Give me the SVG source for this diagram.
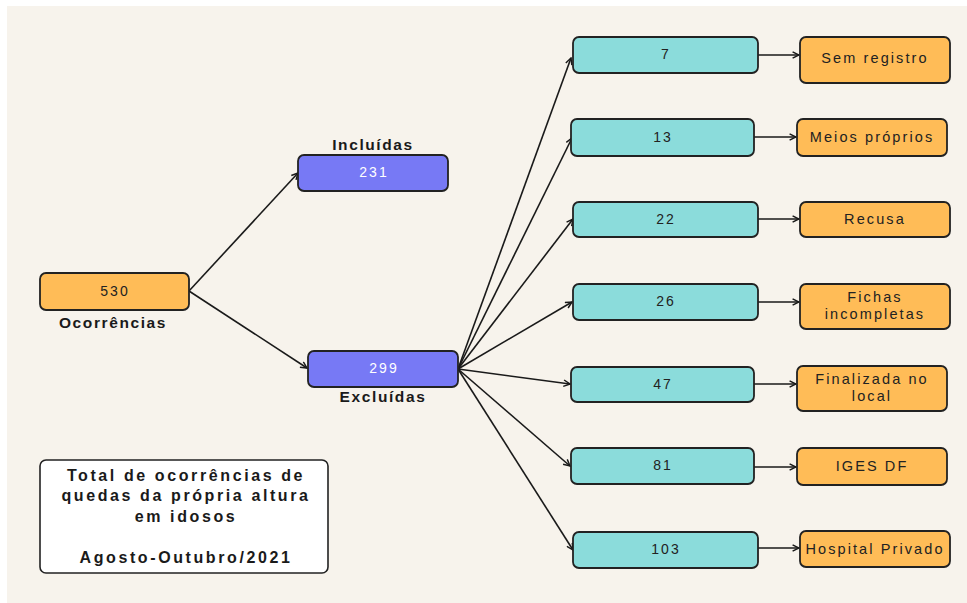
<svg xmlns="http://www.w3.org/2000/svg" width="967" height="603" viewBox="0 0 967 603">
<defs>
<marker id="ah" viewBox="0 0 10 10" refX="9" refY="5" markerWidth="8" markerHeight="8" markerUnits="userSpaceOnUse" orient="auto">
<path d="M1,1 L9,5 L1,9" fill="none" stroke="#1a1a1a" stroke-width="1.8"/>
</marker>
<style>
.box{stroke:#222;stroke-width:1.8}
.or{fill:#FFBC57}
.te{fill:#8BDCDB}
.pu{fill:#7779F5}
.t{font-family:"Liberation Sans",Arial,sans-serif;font-size:14.5px;fill:#222;text-anchor:middle;letter-spacing:2.1px}
.n{font-family:"Liberation Sans",Arial,sans-serif;font-size:14px;fill:#222;text-anchor:middle;letter-spacing:2px}
.w{fill:#fff}
.b{font-family:"Liberation Sans",Arial,sans-serif;font-size:15.5px;font-weight:bold;fill:#1a1a1a;text-anchor:middle;letter-spacing:1.6px}
.lg{font-family:"Liberation Sans",Arial,sans-serif;font-size:16px;font-weight:bold;fill:#1a1a1a;text-anchor:middle;letter-spacing:2.6px}
.c line{stroke:#1a1a1a;stroke-width:1.6;marker-end:url(#ah)}
</style>
</defs>
<rect x="0" y="0" width="967" height="603" fill="#ffffff"/>
<rect x="7" y="6" width="960" height="597" fill="#F7F3EC"/>

<g id="connectors" class="c">
<line x1="189" y1="291" x2="298" y2="173"/>
<line x1="189" y1="291" x2="307" y2="368"/>
<line x1="458" y1="369" x2="571" y2="58"/>
<line x1="458" y1="369" x2="572" y2="138"/>
<line x1="458" y1="369" x2="573" y2="219"/>
<line x1="458" y1="369" x2="572" y2="302"/>
<line x1="458" y1="369" x2="570" y2="384"/>
<line x1="458" y1="369" x2="570" y2="466"/>
<line x1="458" y1="369" x2="573" y2="550"/>
<line x1="758" y1="55" x2="799" y2="55"/>
<line x1="754" y1="137" x2="796" y2="137"/>
<line x1="758" y1="219" x2="799" y2="219"/>
<line x1="758" y1="302" x2="799" y2="302"/>
<line x1="754" y1="384" x2="796" y2="384"/>
<line x1="754" y1="467" x2="796" y2="467"/>
<line x1="758" y1="548" x2="799" y2="548"/>
</g>

<g id="n530">
<rect class="box or" x="40" y="273" width="149" height="37" rx="6"/>
<text class="n" x="115" y="296">530</text>
<text class="b" x="113" y="328">Ocorrências</text>
</g>
<g id="n231">
<rect class="box pu" x="298" y="155" width="150" height="36" rx="6"/>
<text class="n w" x="374" y="177">231</text>
<text class="b" x="373" y="150">Incluídas</text>
</g>
<g id="n299">
<rect class="box pu" x="308" y="351" width="150" height="36" rx="6"/>
<text class="n w" x="384" y="373">299</text>
<text class="b" x="383" y="402">Excluídas</text>
</g>

<g id="legend">
<rect x="40" y="460" width="288" height="113" rx="6" fill="#ffffff" stroke="#222" stroke-width="1.6"/>
<text class="lg" x="186" y="481">Total de ocorrências de</text>
<text class="lg" x="186" y="501">quedas da própria altura</text>
<text class="lg" x="186" y="522">em idosos</text>
<text class="lg" x="186" y="563">Agosto-Outubro/2021</text>
</g>

<g id="t7"><rect class="box te" x="573" y="37" width="185" height="36" rx="6"/><text class="n" x="666" y="59">7</text></g>
<g id="t13"><rect class="box te" x="571" y="119" width="183" height="37" rx="6"/><text class="n" x="663" y="142">13</text></g>
<g id="t22"><rect class="box te" x="573" y="202" width="185" height="35" rx="6"/><text class="n" x="666" y="224">22</text></g>
<g id="t26"><rect class="box te" x="573" y="284" width="185" height="36" rx="6"/><text class="n" x="666" y="306">26</text></g>
<g id="t47"><rect class="box te" x="571" y="367" width="183" height="35" rx="6"/><text class="n" x="663" y="389">47</text></g>
<g id="t81"><rect class="box te" x="571" y="448" width="183" height="36" rx="6"/><text class="n" x="663" y="470">81</text></g>
<g id="t103"><rect class="box te" x="573" y="532" width="185" height="36" rx="6"/><text class="n" x="666" y="554">103</text></g>

<g id="o1"><rect class="box or" x="800" y="37" width="150" height="46" rx="6"/><text class="t" x="875" y="63">Sem registro</text></g>
<g id="o2"><rect class="box or" x="797" y="119" width="150" height="37" rx="6"/><text class="t" x="872" y="142">Meios próprios</text></g>
<g id="o3"><rect class="box or" x="800" y="202" width="150" height="35" rx="6"/><text class="t" x="875" y="224">Recusa</text></g>
<g id="o4"><rect class="box or" x="800" y="284" width="150" height="45" rx="6"/><text class="t" x="875" y="302">Fichas</text><text class="t" x="875" y="319">incompletas</text></g>
<g id="o5"><rect class="box or" x="797" y="366" width="150" height="45" rx="6"/><text class="t" x="872" y="384">Finalizada no</text><text class="t" x="872" y="401">local</text></g>
<g id="o6"><rect class="box or" x="797" y="448" width="150" height="37" rx="6"/><text class="t" x="872" y="471">IGES DF</text></g>
<g id="o7"><rect class="box or" x="800" y="531" width="150" height="36" rx="6"/><text class="t" x="875" y="554">Hospital Privado</text></g>
</svg>
